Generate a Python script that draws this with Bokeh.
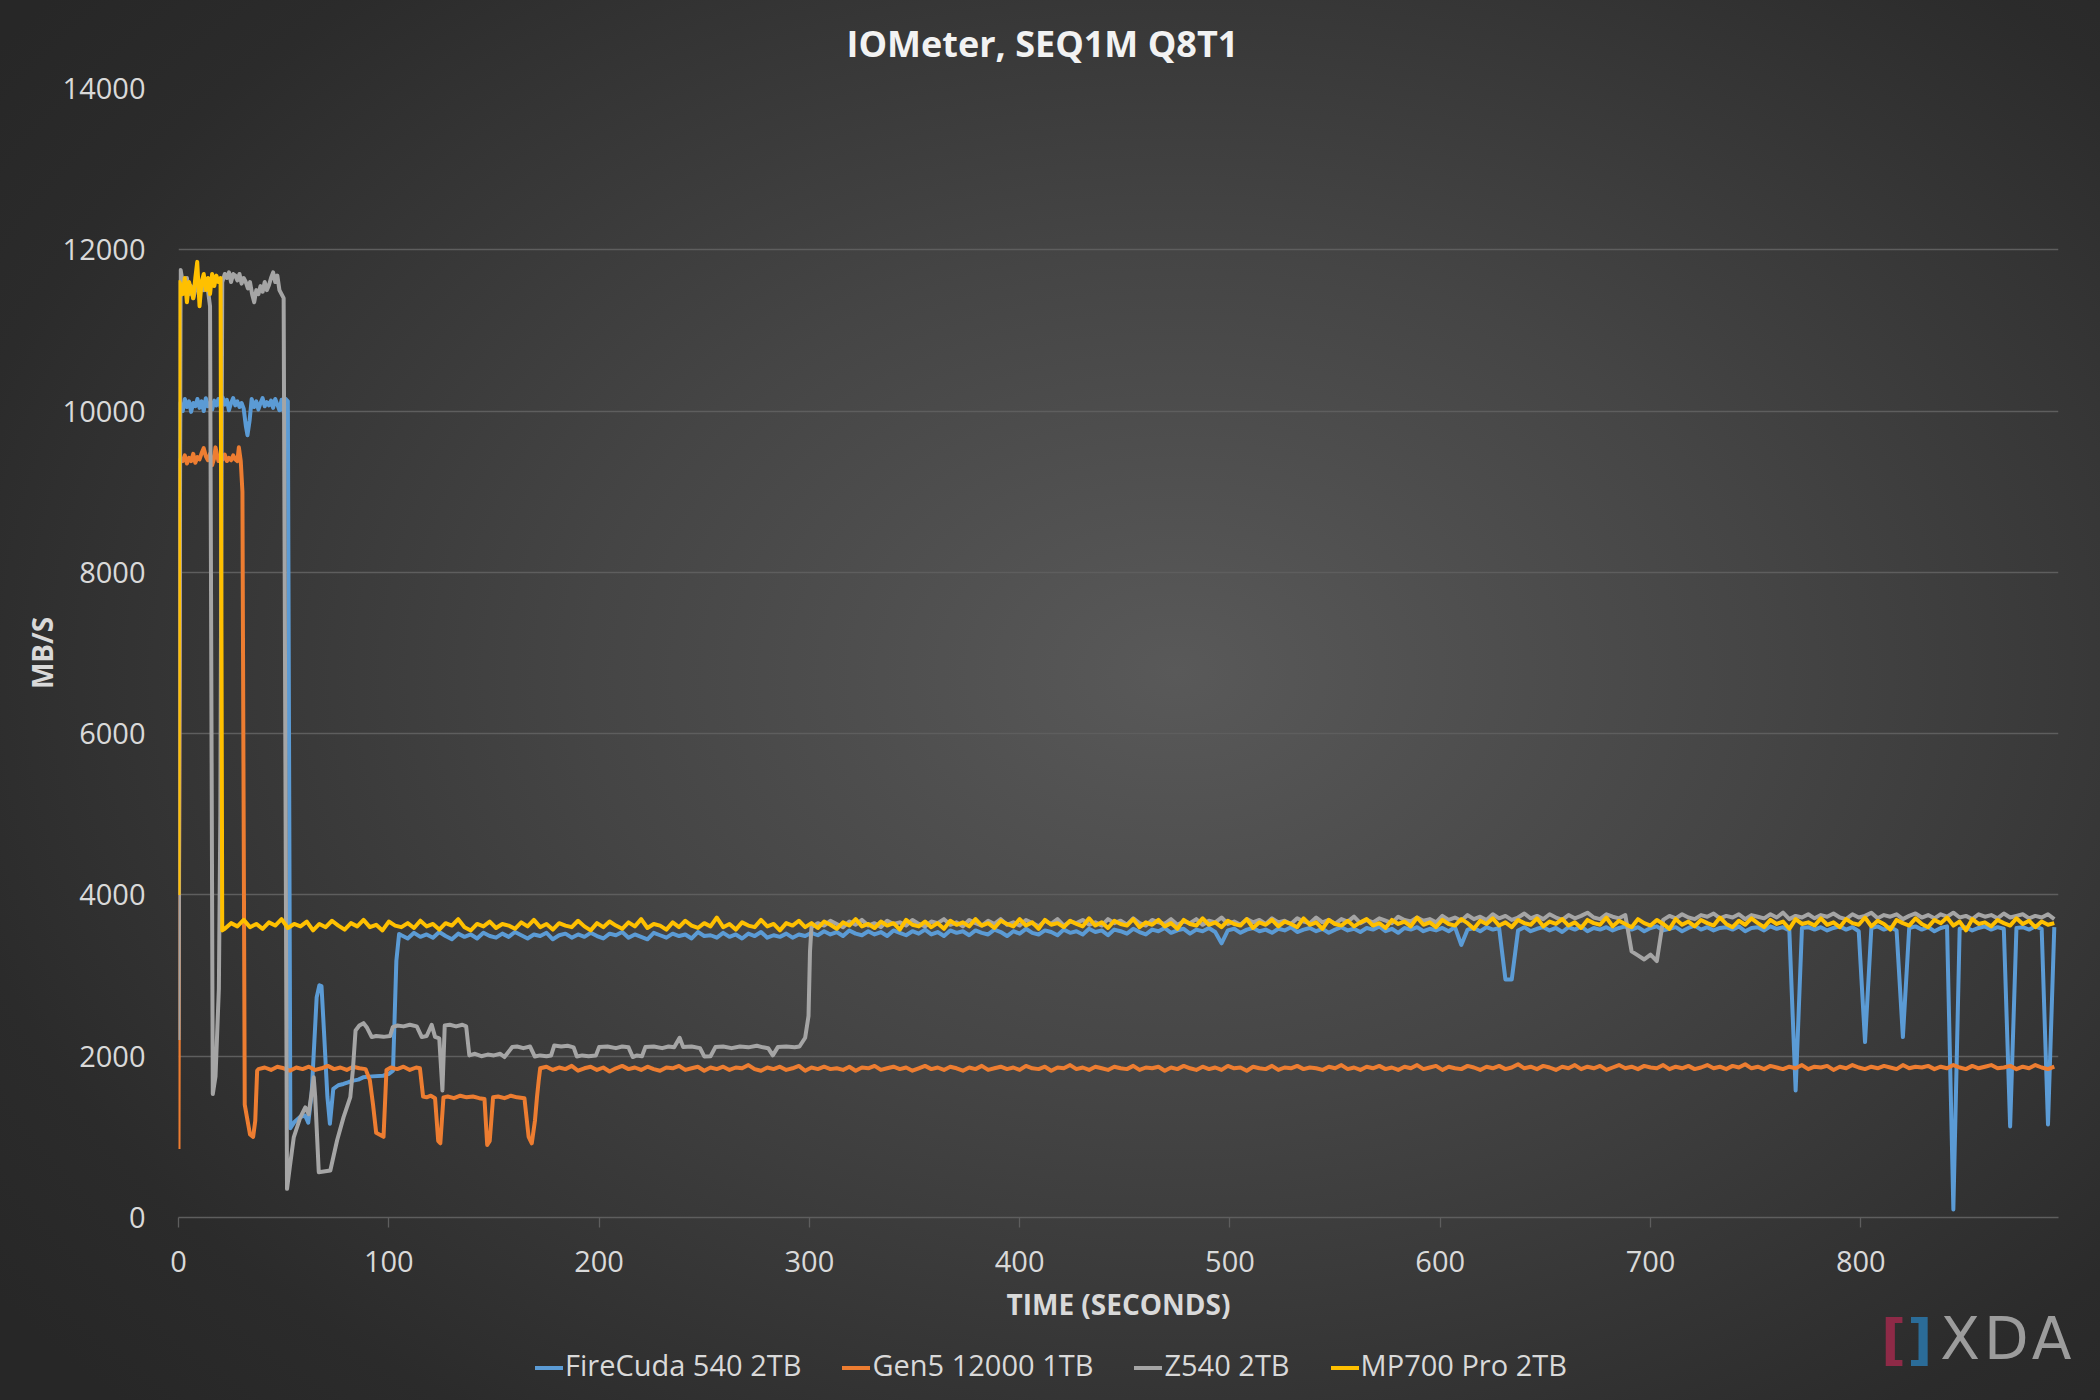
from bokeh.plotting import figure
from bokeh.models import Range1d, FixedTicker, Div
from bokeh.layouts import column
from bokeh.embed import file_html
from bokeh.resources import INLINE

# ---------------- data ----------------
title_text = "IOMeter, SEQ1M Q8T1"
x_label = "TIME (SECONDS)"
y_label = "MB/S"
series_names = ["FireCuda 540 2TB", "Gen5 12000 1TB", "Z540 2TB", "MP700 Pro 2TB"]
series_colors = ["#5B9BD5", "#ED7D31", "#A5A5A5", "#FFC000"]
x_ticks = [0, 100, 200, 300, 400, 500, 600, 700, 800]
y_ticks = [0, 2000, 4000, 6000, 8000, 10000, 12000, 14000]
x_max = 894
y_max = 14000
step = 3  # sampling interval (s) of the steady parts

# FireCuda 540 2TB: early (time, MB/s) points, then steady samples every 3 s from t=106
firecuda_early = [
    (0, 4000), (0.8, 10100), (2, 10000), (3, 10150), (4, 10050), (5, 10120), (6, 9990), (7, 10100),
    (8, 10060), (9, 10150), (10, 10040), (11, 10120), (12, 10000), (13, 10160), (14, 10060),
    (15, 10100), (16, 10020), (17, 10130), (18, 10070), (19, 10150), (20, 10050), (21, 10170),
    (22, 10080), (23, 10140), (24, 10010), (25, 10100), (26, 10160), (27, 10070), (28, 10120),
    (29, 10050), (30, 10100), (31, 10030), (32, 9820), (32.8, 9700), (33.8, 9880), (34.8, 10150),
    (36, 10050), (37, 10120), (38, 10020), (39, 10100), (40, 10160), (41, 10060), (42, 10110),
    (43, 10070), (44, 10130), (45, 10040), (46, 10150), (47, 10080), (48, 10010), (49, 10140),
    (50, 9990), (51, 10150), (52, 10120), (53.2, 1108), (55, 1180), (57.8, 1246), (60.2, 1265),
    (61.7, 1176), (63.3, 1530), (65.7, 2730), (67, 2880), (68, 2870), (69.2, 2300), (70.8, 1500),
    (72, 1163), (73.6, 1594), (76, 1640), (78.4, 1656), (81, 1680), (83.1, 1697), (85.5, 1710),
    (87.8, 1738), (92, 1750), (97.3, 1758), (100, 1780), (102, 1820), (103.6, 3185), (104.9, 3516),
]
firecuda_start = 106
firecuda_steady = [
    3500, 3460, 3530, 3480, 3510, 3470, 3540, 3490, 3450, 3520, 3480, 3510, 3460, 3530, 3490,
    3470, 3520, 3480, 3540, 3500, 3460, 3510, 3490, 3530, 3450, 3500, 3520, 3470, 3510, 3480,
    3530, 3490, 3460, 3520, 3500, 3540, 3470, 3510, 3480, 3450, 3530, 3500, 3470, 3520, 3490,
    3510, 3460, 3540, 3490, 3500, 3470, 3530, 3480, 3510, 3460, 3520, 3490, 3540, 3470, 3500,
    3480, 3520, 3470, 3510, 3490, 3530, 3500, 3550, 3510, 3540, 3490, 3560, 3520, 3500, 3550,
    3510, 3540, 3490, 3560, 3530, 3500, 3550, 3520, 3570, 3510, 3540, 3490, 3560, 3530, 3550,
    3500, 3560, 3530, 3510, 3570, 3540, 3490, 3550, 3520, 3580, 3530, 3510, 3560, 3540, 3500,
    3570, 3530, 3550, 3510, 3580, 3540, 3560, 3500, 3570, 3550, 3520, 3580, 3540, 3510, 3570,
    3550, 3590, 3530, 3560, 3580, 3520, 3570, 3550, 3590, 3540, 3400, 3560, 3580, 3530, 3570,
    3590, 3550, 3570, 3530, 3580, 3560, 3600, 3540, 3570, 3590, 3550, 3580, 3530, 3570, 3600,
    3560, 3580, 3540, 3590, 3570, 3610, 3550, 3580, 3530, 3590, 3570, 3600, 3550, 3580, 3560,
    3590, 3550, 3600, 3380, 3570, 3590, 3550, 3600, 3570, 3590, 2950, 2950, 3560, 3600, 3550,
    3580, 3600, 3560, 3590, 3540, 3600, 3570, 3610, 3550, 3590, 3570, 3600, 3560, 3590, 3610,
    3570, 3600, 3550, 3590, 3610, 3560, 3580, 3600, 3550, 3590, 3620, 3570, 3600, 3560, 3590,
    3600, 3570, 3610, 3550, 3590, 3600, 3560, 3610, 3580, 3600, 3560, 1575, 3590, 3600, 3570,
    3600, 3560, 3590, 3610, 3570, 3600, 3550, 2175, 3590, 3610, 3570, 3600, 3560, 2237, 3590,
    3610, 3570, 3600, 3550, 3590, 3610, 100, 3580, 3600, 3560, 3590, 3610, 3570, 3600, 3580,
    1129, 3590, 3600, 3570, 3610, 3580, 1154, 3600,
]

# Gen5 12000 1TB
gen5_early = [
    (0, 850), (0.7, 9400), (2, 9380), (3, 9450), (4, 9350), (5, 9420), (6, 9380), (7, 9470),
    (8, 9360), (9, 9430), (10, 9400), (11, 9480), (12, 9540), (13, 9440), (14, 9390), (15, 9470),
    (16, 9330), (17, 9420), (17.6, 9550), (19, 9380), (20, 9450), (21, 9400), (22, 9460),
    (23, 9380), (24, 9420), (25, 9390), (26, 9450), (27, 9400), (28, 9380), (28.7, 9550),
    (29.6, 9380), (30.4, 9000), (31.5, 1400), (32.5, 1250), (34, 1030), (35.5, 1000), (36.5, 1200),
    (37.4, 1820), (38, 1840), (41, 1860), (44, 1830), (47, 1870), (50, 1850), (53, 1820),
    (56, 1860), (59, 1840), (62, 1870), (65, 1830), (68, 1850), (71, 1880), (74, 1840),
    (77, 1860), (80, 1830), (83, 1870), (86, 1850), (89, 1840), (91, 1700), (92.5, 1400),
    (94, 1050), (97.5, 1000), (98.9, 1830), (101, 1860), (104, 1840), (107, 1870), (110, 1830),
    (113, 1860), (114.8, 1850), (116.3, 1500), (118, 1490), (120, 1510), (122, 1480),
    (123.5, 950), (124.5, 920), (126, 1490), (128, 1500), (131, 1480), (134, 1510), (137, 1490),
    (140, 1500), (143, 1480), (145.5, 1470), (146.8, 900), (148, 950), (149.6, 1490), (152, 1500),
    (155, 1480), (158, 1510), (161, 1490), (164.5, 1480), (166.5, 1000), (168, 920),
    (169.5, 1200), (170.5, 1500), (171.3, 1700),
]
gen5_start = 172
gen5_steady = [
    1850, 1870, 1830, 1860, 1840, 1880, 1820, 1850, 1870, 1830, 1860, 1810, 1850, 1880, 1840,
    1860, 1830, 1870, 1840, 1820, 1860, 1850, 1880, 1830, 1850, 1870, 1820, 1860, 1840, 1870,
    1830, 1860, 1850, 1890, 1840, 1820, 1860, 1840, 1870, 1830, 1850, 1880, 1820, 1860, 1840,
    1870, 1840, 1850, 1830, 1870, 1820, 1860, 1850, 1880, 1830, 1850, 1870, 1840, 1860, 1820,
    1850, 1880, 1840, 1860, 1830, 1870, 1850, 1820, 1860, 1840, 1880, 1830, 1850, 1870, 1840,
    1860, 1830, 1880, 1850, 1840, 1870, 1820, 1860, 1850, 1890, 1840, 1860, 1830, 1870, 1850,
    1830, 1870, 1850, 1840, 1880, 1830, 1860, 1850, 1870, 1820, 1860, 1840, 1880, 1850, 1830,
    1870, 1840, 1860, 1830, 1880, 1850, 1860, 1820, 1870, 1850, 1840, 1880, 1830, 1860, 1850,
    1880, 1840, 1860, 1850, 1830, 1870, 1850, 1890, 1840, 1860, 1830, 1870, 1850, 1880, 1840,
    1860, 1830, 1870, 1850, 1890, 1840, 1860, 1880, 1830, 1870, 1850, 1840, 1880, 1860, 1830,
    1870, 1850, 1880, 1840, 1860, 1900, 1850, 1870, 1840, 1880, 1860, 1830, 1870, 1850, 1890,
    1840, 1870, 1850, 1880, 1830, 1860, 1890, 1850, 1870, 1840, 1880, 1860, 1850, 1890, 1840,
    1870, 1850, 1880, 1840, 1860, 1890, 1850, 1870, 1840, 1880, 1860, 1900, 1850, 1870, 1840,
    1880, 1860, 1840, 1870, 1850, 1890, 1840, 1870, 1860, 1880, 1830, 1870, 1850, 1890, 1860,
    1840, 1870, 1850, 1880, 1860, 1840, 1890, 1850, 1870, 1860, 1880, 1840, 1870, 1850, 1890,
    1860, 1840, 1880, 1850, 1870, 1890, 1850, 1860, 1880, 1840, 1870, 1850, 1890, 1860, 1840,
    1870,
]

# Z540 2TB
z540_early = [
    (0, 2200), (0.5, 6500), (1, 11750), (2, 11600), (3, 11500), (4, 11650), (5, 11450),
    (6, 11550), (7, 11400), (8, 11500), (9, 11600), (10, 11450), (11, 11550), (12, 11500),
    (13, 11600), (14, 11500), (15, 11300), (16.3, 1530), (17.6, 1750), (19.2, 2840),
    (19.9, 5000), (20.8, 11600), (22, 11700), (23, 11650), (24, 11720), (25, 11600), (26, 11700),
    (27, 11680), (28, 11620), (29, 11700), (30, 11580), (31, 11650), (32, 11600), (33, 11520),
    (34, 11600), (35, 11450), (36, 11350), (37, 11500), (38, 11450), (39, 11550), (40, 11480),
    (41, 11600), (42, 11500), (43, 11560), (44, 11650), (45, 11720), (46, 11600), (47, 11680),
    (48, 11500), (49, 11450), (50, 11400), (51.6, 355), (52.9, 620), (54.8, 993), (57.9, 1240),
    (60.3, 1365), (61.9, 1282), (64.3, 1738), (65, 1500), (66.7, 562), (72.2, 583), (75.4, 955),
    (78.5, 1245), (81.7, 1493), (82.9, 1824), (84.2, 2320), (86, 2380), (88, 2410), (89.5, 2360),
    (91.9, 2237), (94, 2250), (97.5, 2240), (100.6, 2250), (101.9, 2360), (104, 2380),
    (107, 2370), (110, 2390), (113.3, 2370), (115.7, 2237), (118, 2250), (120.4, 2390),
    (122, 2240), (124, 2220), (125.5, 1575), (126.6, 2380), (129, 2390), (132, 2370),
    (135, 2390), (136.8, 2370), (138.3, 2010), (141, 2030), (144, 2000), (147, 2020),
    (150, 2010), (153, 2030), (155, 1990), (158.7, 2113), (161, 2120), (164, 2100),
    (167.2, 2120), (169.4, 1997), (172, 2010), (175, 2000), (177.2, 2010), (178.7, 2134),
    (182, 2120), (185, 2130), (187.9, 2110), (189.4, 1997), (192, 2010), (195, 2000),
    (198.5, 2010), (200, 2113), (204, 2120), (208, 2100), (211, 2120), (214, 2110), (216, 1990),
    (218, 2010), (220.4, 2000), (222, 2113), (226, 2120), (230, 2100), (233, 2120),
    (235.7, 2110), (238.3, 2229), (240, 2113), (244, 2120), (248, 2100), (250, 1997),
    (253, 2000), (255.3, 2113), (259, 2120), (263, 2100), (267, 2120), (271, 2110), (275, 2130),
    (278, 2110), (280.4, 2100), (282.6, 2010), (285, 2113), (289, 2120), (293, 2110),
    (295.3, 2120), (298, 2229), (299.6, 2500), (300.3, 3300),
]
z540_start = 301
z540_steady = [
    3600, 3650, 3620, 3680, 3640, 3600, 3670, 3630, 3690, 3620, 3650, 3600, 3680, 3640, 3660,
    3620, 3690, 3640, 3610, 3670, 3650, 3700, 3630, 3660, 3610, 3690, 3650, 3620, 3680, 3640,
    3700, 3630, 3660, 3620, 3690, 3650, 3610, 3680, 3640, 3700, 3620, 3670, 3650, 3690, 3630,
    3660, 3620, 3700, 3650, 3680, 3630, 3710, 3650, 3620, 3690, 3660, 3640, 3700, 3630, 3670,
    3650, 3700, 3630, 3680, 3660, 3720, 3640, 3670, 3630, 3700, 3660, 3690, 3640, 3710, 3660,
    3680, 3640, 3710, 3670, 3650, 3720, 3660, 3690, 3640, 3700, 3670, 3730, 3650, 3690, 3660,
    3710, 3680, 3650, 3730, 3690, 3670, 3720, 3680, 3700, 3660, 3740, 3690, 3720, 3680, 3750,
    3700, 3730, 3690, 3760, 3710, 3740, 3690, 3720, 3770, 3710, 3740, 3700, 3760, 3720, 3690,
    3750, 3710, 3740, 3780, 3720, 3700, 3760, 3730, 3710, 3750, 3300, 3250, 3200, 3260, 3180,
    3690, 3740, 3710, 3760, 3720, 3700, 3750, 3730, 3770, 3710, 3740, 3720, 3760, 3700, 3750,
    3730, 3710, 3760, 3720, 3780, 3700, 3740, 3720, 3760, 3710, 3750, 3730, 3770, 3720, 3700,
    3760, 3720, 3740, 3780, 3710, 3750, 3730, 3760, 3700, 3740, 3770, 3720, 3750, 3710, 3760,
    3730, 3780, 3720, 3740, 3700, 3760, 3730, 3750, 3710, 3770, 3720, 3740, 3760, 3710, 3740,
    3720, 3760, 3700,
]

# MP700 Pro 2TB
mp700_early = [
    (0, 4000), (0.5, 11600), (1, 11550), (2, 11450), (3, 11650), (4, 11350), (5, 11600),
    (6, 11500), (7, 11400), (8, 11650), (8.9, 11850), (10, 11300), (11, 11600), (12, 11700),
    (13, 11500), (14, 11650), (15, 11450), (16, 11700), (17, 11550), (18, 11680), (19, 11600),
    (20, 11650), (20.8, 3560),
]
mp700_start = 22
mp700_steady = [
    3580, 3650, 3610, 3690, 3600, 3640, 3580, 3660, 3620, 3700, 3590, 3640, 3610, 3670, 3560,
    3640, 3600, 3680, 3620, 3570, 3650, 3610, 3690, 3600, 3630, 3560, 3670, 3620, 3600, 3650,
    3590, 3680, 3610, 3640, 3570, 3650, 3620, 3700, 3600, 3560, 3640, 3610, 3670, 3590, 3640,
    3620, 3580, 3660, 3610, 3690, 3600, 3640, 3570, 3650, 3620, 3600, 3680, 3610, 3560, 3650,
    3600, 3670, 3620, 3580, 3660, 3610, 3700, 3590, 3640, 3620, 3570, 3660, 3600, 3680, 3620,
    3590, 3650, 3610, 3720, 3600, 3640, 3570, 3660, 3620, 3600, 3690, 3610, 3640, 3560, 3650,
    3620, 3680, 3600, 3650, 3590, 3670, 3630, 3580, 3660, 3620, 3700, 3610, 3640, 3590, 3670,
    3620, 3650, 3570, 3690, 3630, 3610, 3670, 3600, 3650, 3580, 3680, 3630, 3660, 3610, 3700,
    3620, 3650, 3590, 3680, 3640, 3610, 3700, 3620, 3660, 3580, 3690, 3630, 3650, 3600, 3680,
    3640, 3610, 3710, 3620, 3660, 3590, 3680, 3640, 3620, 3700, 3600, 3660, 3630, 3690, 3610,
    3650, 3580, 3690, 3640, 3620, 3710, 3630, 3660, 3600, 3680, 3640, 3620, 3700, 3590, 3660,
    3630, 3690, 3610, 3670, 3640, 3600, 3710, 3630, 3660, 3580, 3690, 3640, 3620, 3680, 3610,
    3660, 3700, 3620, 3650, 3590, 3690, 3640, 3670, 3610, 3720, 3630, 3660, 3600, 3690, 3640,
    3620, 3700, 3650, 3580, 3680, 3640, 3710, 3620, 3660, 3600, 3690, 3650, 3630, 3710, 3610,
    3670, 3640, 3700, 3620, 3660, 3590, 3690, 3650, 3630, 3720, 3610, 3680, 3640, 3600, 3700,
    3650, 3620, 3690, 3640, 3580, 3700, 3630, 3670, 3610, 3690, 3650, 3620, 3720, 3640, 3600,
    3680, 3630, 3710, 3650, 3600, 3690, 3640, 3670, 3580, 3700, 3640, 3660, 3620, 3710, 3630,
    3660, 3600, 3700, 3650, 3630, 3720, 3610, 3680, 3640, 3570, 3690, 3650, 3620, 3710, 3640,
    3600, 3690, 3650, 3720, 3620, 3670, 3560, 3700, 3640, 3660, 3610, 3690, 3650, 3620, 3710,
    3640, 3680, 3600, 3670, 3630, 3650,
]

# watermark text
logo_parts = ["[", "]", "XDA"]
logo_colors = ["#8e2a47", "#2b6c98", "#9c9c9c"]


def build(early, start, steady):
    ts = [t for t, _ in early] + [start + step * i for i in range(len(steady))]
    vs = [v for _, v in early] + list(steady)
    return ts, vs


series = [
    build(firecuda_early, firecuda_start, firecuda_steady),
    build(gen5_early, gen5_start, gen5_steady),
    build(z540_early, z540_start, z540_steady),
    build(mp700_early, mp700_start, mp700_steady),
]

# ---------------- figure ----------------
FONT = "Open Sans"
TXT = "#d9d9d9"
GRID = "#5e5e5e"

p = figure(width=2100, height=1400, output_backend="svg", toolbar_location=None,
           x_range=Range1d(0, x_max), y_range=Range1d(0, y_max),
           min_border_left=178, min_border_right=42, min_border_top=88, min_border_bottom=183)
p.styles = {"background": "radial-gradient(ellipse 70% 75% at 56% 48%, #595959 0%, #454545 40%, #2b2b2b 85%, #272727 100%)"}
p.border_fill_color = None
p.background_fill_color = None
p.outline_line_color = None

p.title.text = title_text
p.title.align = "left"
p.title.offset = 668
p.title.vertical_align = "top"
p.title.text_font = FONT
p.title.text_font_size = "36px"
p.title.text_font_style = "bold"
p.title.text_color = "#f2f2f2"
p.title.standoff = 37

p.xgrid.visible = False
p.ygrid.grid_line_color = GRID
p.ygrid.grid_line_width = 1.3

xa = p.xaxis[0]
xa.ticker = FixedTicker(ticks=x_ticks)
xa.axis_line_color = GRID
xa.axis_line_width = 1.3
xa.major_tick_line_color = GRID
xa.major_tick_line_width = 1.3
xa.major_tick_out = 10
xa.major_tick_in = 0
xa.minor_tick_line_color = None
xa.major_label_text_font = FONT
xa.major_label_text_font_size = "29px"
xa.major_label_text_color = TXT
xa.major_label_standoff = 23
xa.axis_label = x_label
xa.axis_label_text_font = FONT
xa.axis_label_text_font_size = "28px"
xa.axis_label_text_font_style = "bold"
xa.axis_label_text_color = TXT
xa.axis_label_standoff = 10

ya = p.yaxis[0]
ya.ticker = FixedTicker(ticks=y_ticks)
ya.axis_line_color = None
ya.major_tick_line_color = None
ya.minor_tick_line_color = None
ya.major_label_text_font = FONT
ya.major_label_text_font_size = "29px"
ya.major_label_text_color = TXT
ya.major_label_standoff = 27
ya.axis_label = y_label
ya.axis_label_text_font = FONT
ya.axis_label_text_font_size = "28px"
ya.axis_label_text_font_style = "bold"
ya.axis_label_text_color = TXT
ya.axis_label_standoff = -1

for (ts, vs), color in zip(series, series_colors):
    p.line(ts, vs, line_color=color, line_width=4, line_join="round")

# Legend row under the axis title (HTML overlay; a side-panel Legend would
# take over the figure's height in this Bokeh version)
legend_items = "".join(
    f'<span style="display:inline-block;width:28px;height:4px;background:{c};'
    f'vertical-align:middle;margin-right:2px;"></span>'
    f'<span style="margin-right:{41 if i < len(series_names) - 1 else 0}px;">{n}</span>'
    for i, (n, c) in enumerate(zip(series_names, series_colors))
)
legend_html = (
    f'<div style="white-space:nowrap;line-height:1.2;font-family:\'Open Sans\';'
    f'font-size:29px;color:{TXT};">{legend_items}</div>'
)
legend_div = Div(text=legend_html, styles={"position": "absolute", "left": "530px", "top": "1343px"})

# XDA watermark, overlaid on the bottom-right corner
logo_html = (
    '<div style="white-space:nowrap;line-height:1;font-family:\'DejaVu Sans\';">'
    f'<span style="color:{logo_colors[0]};font-weight:bold;font-size:55px;">{logo_parts[0]}</span>'
    f'<span style="color:{logo_colors[1]};font-weight:bold;font-size:55px;margin-left:1px;">{logo_parts[1]}</span>'
    f'<span style="color:{logo_colors[2]};font-size:58px;letter-spacing:4px;margin-left:8px;">{logo_parts[2]}</span>'
    '</div>'
)
logo = Div(text=logo_html, styles={"position": "absolute", "left": "1876px", "top": "1305px"})

page = column(p, legend_div, logo)
open("out.html", "w").write(file_html(page, INLINE))
